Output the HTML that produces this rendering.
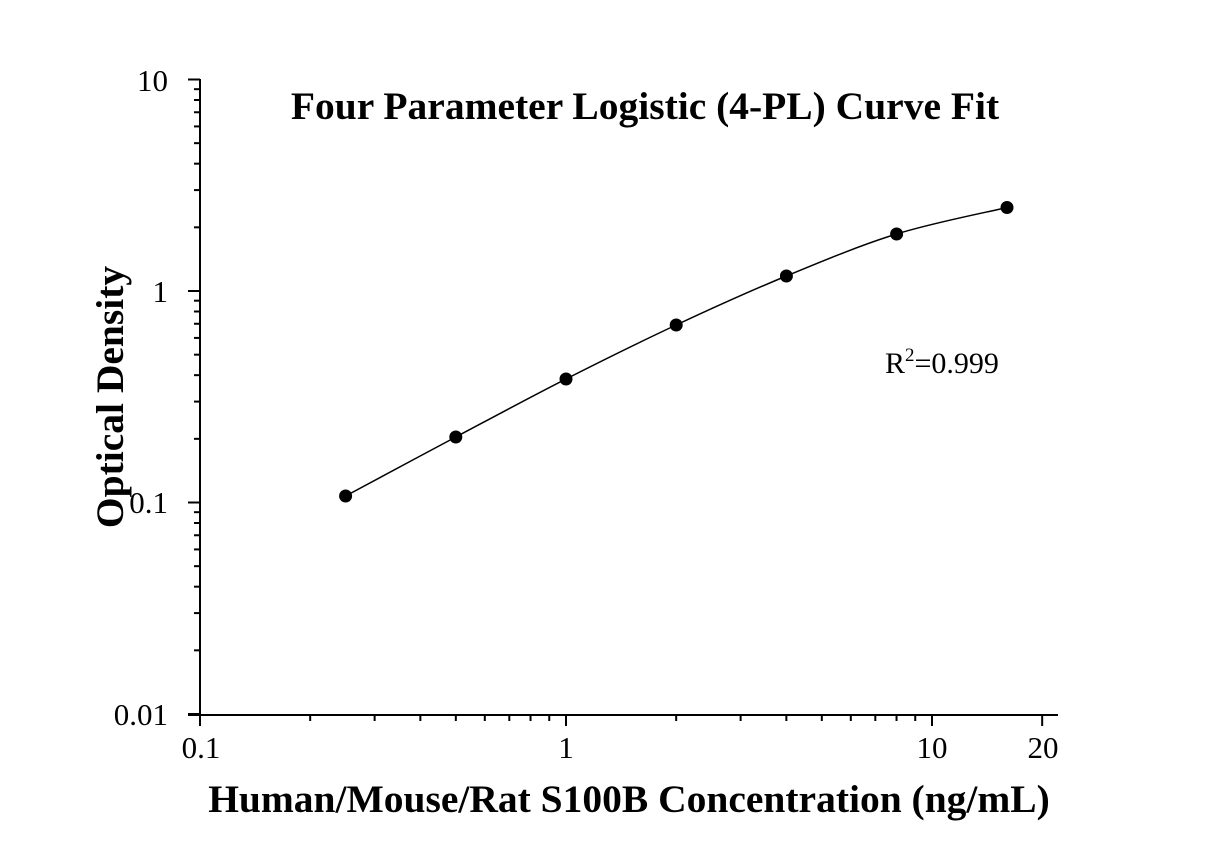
<!DOCTYPE html>
<html><head><meta charset="utf-8"><style>
html,body{margin:0;padding:0;background:#fff;}
svg{display:block;font-family:"Liberation Serif",serif;}
</style></head><body>
<svg id="s" width="1225" height="855" viewBox="0 0 1225 855" xmlns="http://www.w3.org/2000/svg">
<text x="645" y="119" font-size="39.5" font-weight="bold" text-anchor="middle">Four Parameter Logistic (4-PL) Curve Fit</text>
<text x="629" y="812" font-size="39.5" font-weight="bold" text-anchor="middle">Human/Mouse/Rat S100B Concentration (ng/mL)</text>
<text transform="translate(123,397) rotate(-90)" font-size="39.5" font-weight="bold" text-anchor="middle">Optical Density</text>
<text x="885" y="373" font-size="30">R<tspan font-size="19" dy="-12">2</tspan><tspan dy="12">=0.999</tspan></text>
<g font-size="31" text-anchor="end">
<text x="168" y="91">10</text><text x="168" y="302">1</text><text x="168" y="513">0.1</text><text x="168" y="725">0.01</text>
</g>
<g font-size="31" text-anchor="middle">
<text x="201" y="758">0.1</text><text x="566" y="758">1</text><text x="932" y="758">10</text><text x="1043" y="758">20</text>
</g>
<g id="ax" stroke="#000" stroke-width="2" fill="none"></g>
</svg>
<script>
var g=document.getElementById('ax'),o='';
function L(a,b,c,d){o+='<line x1="'+a+'" y1="'+b+'" x2="'+c+'" y2="'+d+'"/>';}
L(200,79,200,715);L(188,715,1058,715);
var X0=200,DX=366,Y0=714,DY=211.5;
function px(v){return X0+DX*Math.log10(v/0.1);}
function py(v){return Y0-DY*Math.log10(v/0.01);}
[0.1,1,10,20].forEach(function(v){L(px(v),715,px(v),726);});
[0.1,1].forEach(function(d){for(var k=2;k<=9;k++)L(px(d*k),715,px(d*k),721);});
[0.01,0.1,1,10].forEach(function(v){L(188,py(v),200,py(v));});
[0.01,0.1,1].forEach(function(d){for(var k=2;k<=9;k++)L(194,py(d*k),200,py(d*k));});
var P=[[345.6,496],[455.8,437],[566,379],[676.2,325],[786.4,276],[896.6,234],[1007,207.5]];
var d='M'+P[0][0]+','+P[0][1];
for(var i=0;i<P.length-1;i++){var p0=P[Math.max(0,i-1)],p1=P[i],p2=P[i+1],p3=P[Math.min(P.length-1,i+2)];
d+=' C'+(p1[0]+(p2[0]-p0[0])/6)+','+(p1[1]+(p2[1]-p0[1])/6)+' '+(p2[0]-(p3[0]-p1[0])/6)+','+(p2[1]-(p3[1]-p1[1])/6)+' '+p2[0]+','+p2[1];}
o+='<path d="'+d+'" stroke-width="1.5"/>';
P.forEach(function(p){o+='<circle cx="'+p[0]+'" cy="'+p[1]+'" r="6.5" fill="#000" stroke="none"/>';});
g.innerHTML=o;
</script>
</body></html>
